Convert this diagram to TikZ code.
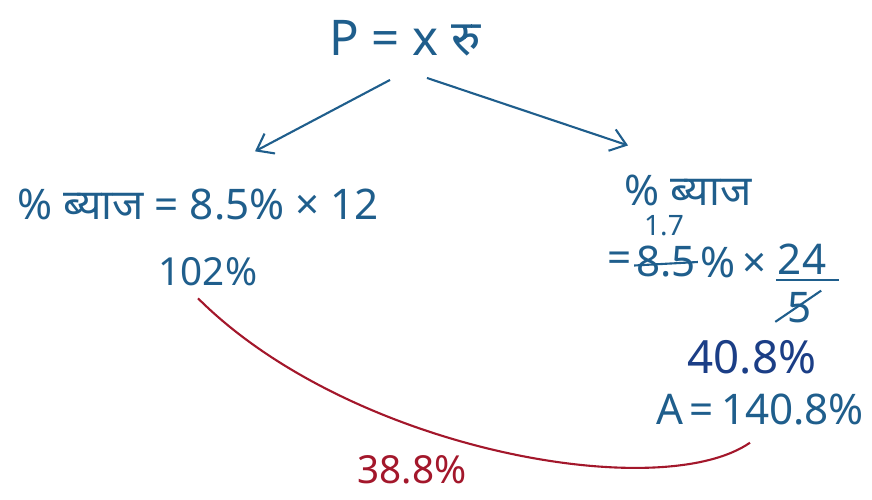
\documentclass[tikz,border=0pt]{standalone}
\usepackage{fontspec}
\setmainfont{Noto Sans}
\newfontfamily\devfont[Script=Devanagari]{Noto Sans}
\usetikzlibrary{arrows.meta,calc,positioning}
\usepackage{xcolor}
\definecolor{ink}{HTML}{1F5E8C}
\definecolor{darkink}{HTML}{1B3E86}
\definecolor{redink}{HTML}{A3172B}

\begin{document}
\begin{tikzpicture}[x=0.02cm, y=-0.02cm,
  label/.style={text=ink, inner sep=1pt, font=\fontsize{24}{28}\selectfont},
  arrow/.style={-{Straight Barb[length=3mm,width=4.5mm]}, line width=1.2pt, draw=ink},
  strike/.style={draw=ink, line width=1.2pt},
  redline/.style={line width=1.2pt, draw=redink}
]
\useasboundingbox (0,0) rectangle (872,500);
\node[label, font=\fontsize{28}{32}\selectfont] (top) at (405,38) {P = x {\devfont रु}};
% left branch
\node[label] (left) at (198,205) {\% {\devfont ब्याज} = 8.5\% × 12};
\node[label, font=\fontsize{22}{26}\selectfont] (simple) at (208,272) {102\%};
% right branch
\node[label] (right) at (688,190) {\% {\devfont ब्याज}};
\node[label] (eqR) at (620,262) {=};
\node[label, right=0pt of eqR] (oldrate) {8.5};
\node[label, right=0pt of oldrate] (pctR) {\%\,×};
\node[label, font=\fontsize{16}{20}\selectfont] (newrate) at (664,226) {1.7};
\node[label] (num) at (802,259) {24};
\node[label] (den) at (800,308) {5};
\draw[strike] ([yshift=-2pt]oldrate.west) -- ([yshift=0pt]oldrate.east);
\draw[strike] ([yshift=-2pt]num.south west) -- ([yshift=-2pt,xshift=6pt]num.south east);
\draw[strike] ([xshift=-6pt,yshift=2pt]den.south west) -- ([xshift=4pt]den.north east);
\node[label, text=darkink, font=\fontsize{26}{30}\selectfont] (interest) at (752,357) {40.8\%};
\node[label, font=\fontsize{24}{28}\selectfont] (total) at (760,410) {A\,=\,140.8\%};
% arrows
\draw[arrow] ([xshift=-0.3cm,yshift=-0.44cm]top.south) -- ([xshift=1.14cm,yshift=0.72cm]left.north);
\draw[arrow] ([xshift=0.44cm,yshift=-0.4cm]top.south) -- ([xshift=-1.2cm,yshift=0.54cm]right.north);
% difference
\draw[redline] ([xshift=-0.2cm,yshift=-0.2cm]simple.south) .. controls (350,450) and (660,505) .. ([xshift=-0.2cm,yshift=-0.3cm]total.south);
\node[label, text=redink, font=\fontsize{22}{26}\selectfont] (diff) at (412,470) {38.8\%};
\end{tikzpicture}
\end{document}
